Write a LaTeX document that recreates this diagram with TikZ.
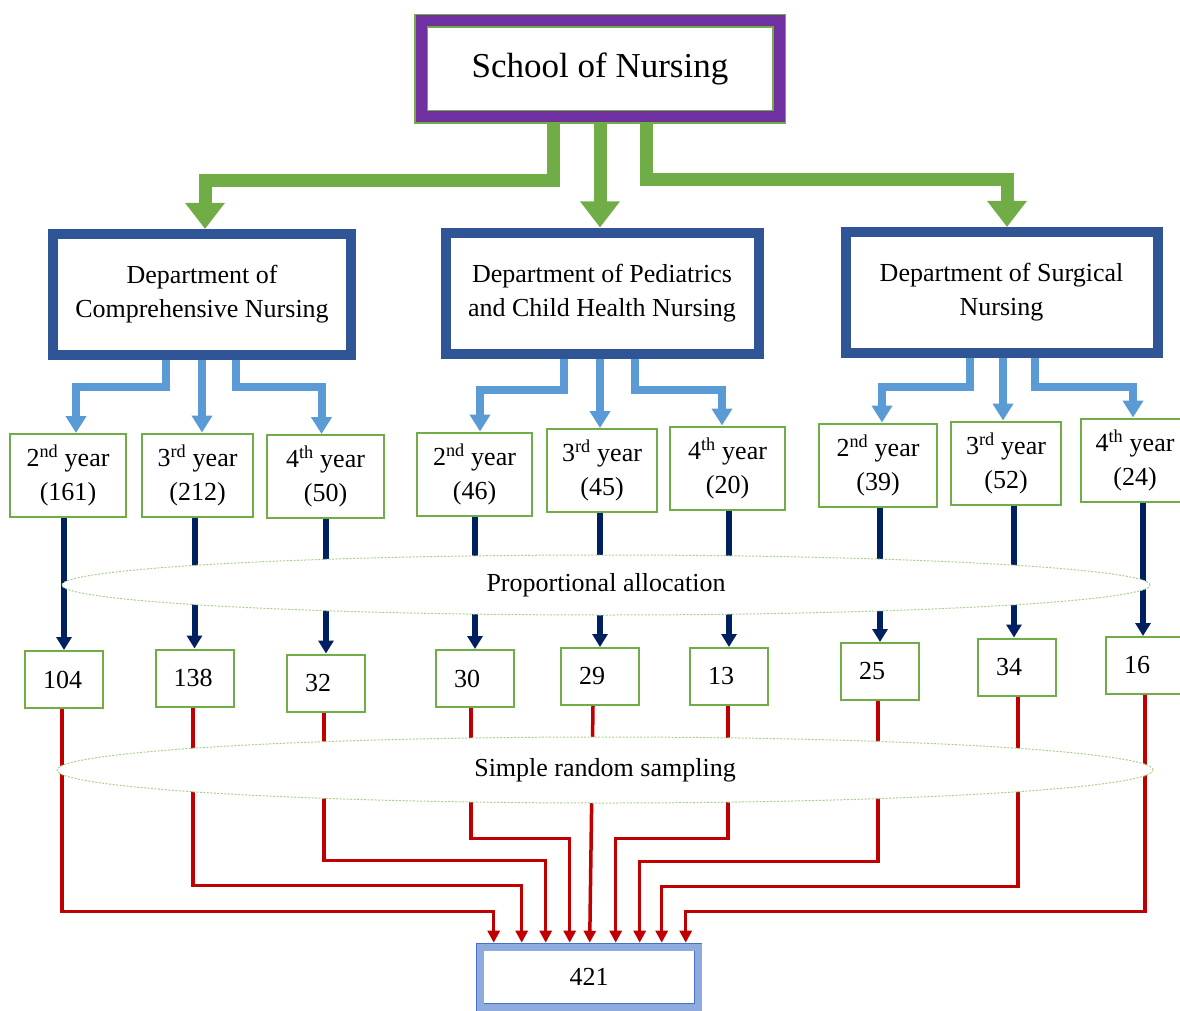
\documentclass[tikz,border=0pt]{standalone}
\usepackage{fontspec}
\setmainfont{Liberation Serif}
\usetikzlibrary{shapes.geometric,arrows.meta,calc}
\definecolor{nursegreen}{HTML}{70AD47}
\definecolor{nursepurple}{HTML}{7030A0}
\definecolor{deptblue}{HTML}{2F5597}
\definecolor{yearblue}{HTML}{5B9BD5}
\definecolor{allocnavy}{HTML}{002060}
\definecolor{samplered}{HTML}{C00000}
\definecolor{bandgreen}{HTML}{A9D18E}
\definecolor{totalblue}{HTML}{8FAADC}
\definecolor{totaledge}{HTML}{4472C4}

\begin{document}
\begin{tikzpicture}[x=1pt,y=-1pt,
    txt/.style={font=\fontsize{26}{34}\selectfont, align=center, inner sep=0pt},
    schoolbox/.style={draw=nursegreen, double=nursepurple, double distance=11pt, line width=1.5pt, fill=white,
        minimum width=358pt, minimum height=96pt, outer sep=7pt, font=\fontsize{35}{40}\selectfont},
    deptbox/.style={txt, draw=deptblue, line width=10pt, fill=white, minimum height=121pt},
    yearbox/.style={txt, draw=nursegreen, line width=2pt, fill=white, minimum height=83pt},
    countbox/.style={txt, draw=nursegreen, line width=2pt, fill=white, minimum height=57pt,
        inner xsep=18pt, text width=42pt, align=left},
    band/.style={txt, ellipse, draw=bandgreen, line width=1pt, dash pattern=on 2pt off 1.5pt, fill=white},
    totalbox/.style={txt, draw=totaledge, double=totalblue, double distance=7pt, line width=0.8pt, fill=white,
        minimum width=218pt, minimum height=60pt, outer sep=4.3pt},
    schoolarrow/.style={draw=nursegreen, line width=13pt, -{Triangle[width=38pt,length=26pt]}},
    deptarrow/.style={draw=yearblue, line width=8pt, -{Triangle[width=20pt,length=17pt]}},
    allocarrow/.style={draw=allocnavy, line width=6pt, -{Triangle[width=15pt,length=13pt]}},
    samplearrow/.style={draw=samplered, line width=3.5pt, -{Triangle[width=12pt,length=12pt]}}
]
    \useasboundingbox (0,0) rectangle (1180,1011);

    \node[schoolbox] (school) at (600,69) {School of Nursing};

    \node[deptbox, minimum width=298pt] (cdept) at (202,294.5) {Department of\\Comprehensive Nursing};
    \node[deptbox, minimum width=313pt] (pdept) at (602,293) {Department of Pediatrics\\and Child Health Nursing};
    \node[deptbox, minimum width=312pt] (sdept) at (1001.5,292.5) {Department of Surgical\\Nursing};

    \node[yearbox, minimum width=116pt] (c2) at (68,475.5) {2\textsuperscript{nd} year\\(161)};
    \node[yearbox, minimum width=111pt] (c3) at (197.5,475) {3\textsuperscript{rd} year\\(212)};
    \node[yearbox, minimum width=117pt] (c4) at (325.5,476.5) {4\textsuperscript{th} year\\(50)};
    \node[yearbox, minimum width=115pt] (p2) at (474.5,474) {2\textsuperscript{nd} year\\(46)};
    \node[yearbox, minimum width=110pt] (p3) at (602,470.5) {3\textsuperscript{rd} year\\(45)};
    \node[yearbox, minimum width=115pt] (p4) at (727.5,468) {4\textsuperscript{th} year\\(20)};
    \node[yearbox, minimum width=118pt] (s2) at (878,465) {2\textsuperscript{nd} year\\(39)};
    \node[yearbox, minimum width=110pt] (s3) at (1006,463) {3\textsuperscript{rd} year\\(52)};
    \node[yearbox, minimum width=108pt] (s4) at (1135,460) {4\textsuperscript{th} year\\(24)};

    \node[countbox] (c2s) at (64,679.5) {104};
    \node[countbox] (c3s) at (194.5,678) {138};
    \node[countbox] (c4s) at (326,683) {32};
    \node[countbox] (p2s) at (475,678.5) {30};
    \node[countbox] (p3s) at (600,676.5) {29};
    \node[countbox] (p4s) at (729,676.5) {13};
    \node[countbox] (s2s) at (880,671.5) {25};
    \node[countbox] (s3s) at (1017,667) {34};
    \node[countbox] (s4s) at (1145,665.5) {16};

    \node[totalbox] (total) at (589,977) {421};

    \draw[schoolarrow] ($(school.south)+(-47,0)$) -- ++(0,57) -| ($(cdept.north)+(3,0)$);
    \draw[schoolarrow] (school.south) -- (school.south |- pdept.north);
    \draw[schoolarrow] ($(school.south)+(46,0)$) -- ++(0,56) -| ($(sdept.north)+(5.5,0)$);

    \draw[deptarrow] ($(cdept.south)+(-36,0)$) -- ++(0,27) -| ($(c2.north)+(8,0)$);
    \draw[deptarrow] (cdept.south) -- (cdept.south |- c3.north);
    \draw[deptarrow] ($(cdept.south)+(34,0)$) -- ++(0,27) -| ($(c4.north)+(-4,0)$);
    \draw[deptarrow] ($(pdept.south)+(-38,0)$) -- ++(0,31) -| ($(p2.north)+(5.5,0)$);
    \draw[deptarrow] ($(pdept.south)+(-2,0)$) -- ($(p3.north)+(-2,0)$);
    \draw[deptarrow] ($(pdept.south)+(33,0)$) -- ++(0,31) -| ($(p4.north)+(-5.5,0)$);
    \draw[deptarrow] ($(sdept.south)+(-31.5,0)$) -- ++(0,29) -| ($(s2.north)+(4,0)$);
    \draw[deptarrow] ($(sdept.south)+(1.5,0)$) -- ($(s3.north)+(-3,0)$);
    \draw[deptarrow] ($(sdept.south)+(33.5,0)$) -- ++(0,29) -| ($(s4.north)+(-2,0)$);

    \draw[allocarrow] (c2s.north |- c2.south) -- (c2s.north);
    \draw[allocarrow] (c3s.north |- c3.south) -- (c3s.north);
    \draw[allocarrow] (c4s.north |- c4.south) -- (c4s.north);
    \draw[allocarrow] (p2s.north |- p2.south) -- (p2s.north);
    \draw[allocarrow] (p3s.north |- p3.south) -- (p3s.north);
    \draw[allocarrow] (p4s.north |- p4.south) -- (p4s.north);
    \draw[allocarrow] (s2s.north |- s2.south) -- (s2s.north);
    \draw[allocarrow] ($(s3s.north |- s3.south)+(-3,0)$) -- ($(s3s.north)+(-3,0)$);
    \draw[allocarrow] ($(s4s.north |- s4.south)+(-2,0)$) -- ($(s4s.north)+(-2,0)$);

    \draw[samplearrow] ($(c2s.south)+(-2,0)$) |- ($(total.north west)+(18,-31)$) -- ++(0,31);
    \draw[samplearrow] ($(c3s.south)+(-1.5,0)$) |- ($(total.north west)+(46,-57)$) -- ++(0,57);
    \draw[samplearrow] ($(c4s.south)+(-2,0)$) |- ($(total.north west)+(70,-82)$) -- ++(0,82);
    \draw[samplearrow] ($(p2s.south)+(-4,0)$) |- ($(total.north west)+(94,-104)$) -- ++(0,104);
    \draw[samplearrow] ($(p3s.south)+(-7,0)$) -- ($(total.north west)+(114,0)$);
    \draw[samplearrow] ($(p4s.south)+(-1,0)$) |- ($(total.north west)+(140,-104)$) -- ++(0,104);
    \draw[samplearrow] ($(s2s.south)+(-2,0)$) |- ($(total.north west)+(164,-81)$) -- ++(0,81);
    \draw[samplearrow] ($(s3s.south)+(1,0)$) |- ($(total.north west)+(186,-56)$) -- ++(0,56);
    \draw[samplearrow] (s4s.south) |- ($(total.north west)+(210,-31)$) -- ++(0,31);

    \node[band, minimum width=1088pt, minimum height=60pt] (alloc) at (606,585) {Proportional allocation};
    \node[band, minimum width=1096pt, minimum height=66pt] (srs) at (605,770) {Simple random sampling};
\end{tikzpicture}
\end{document}
